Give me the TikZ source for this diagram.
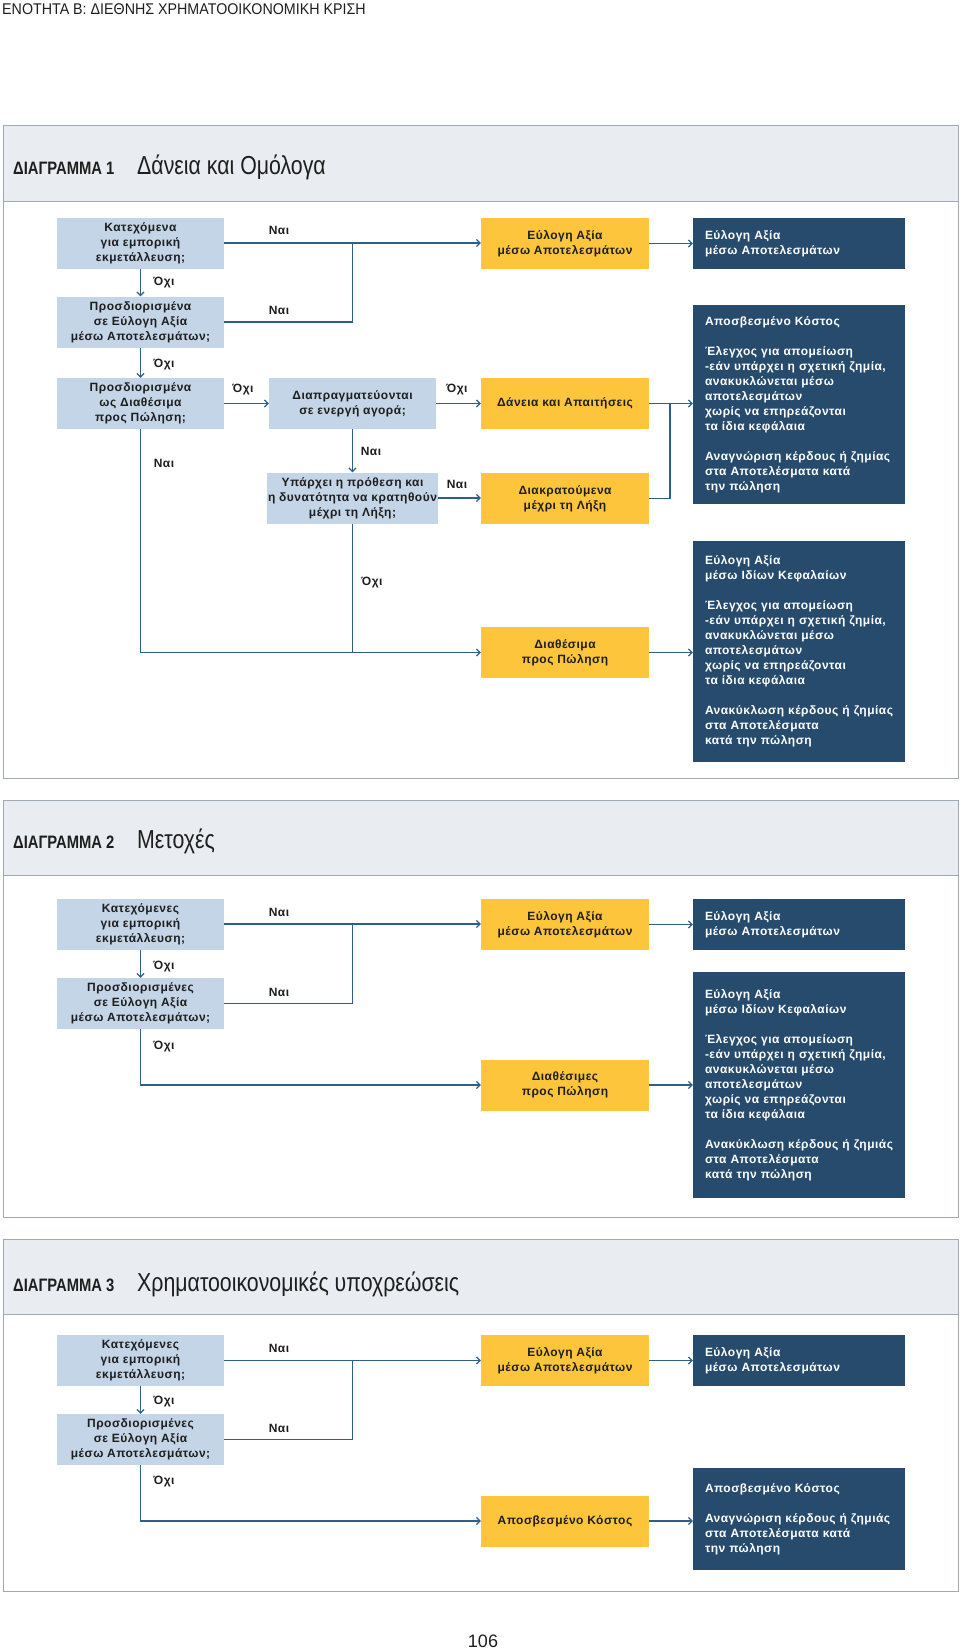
\documentclass[tikz,border=0pt]{standalone}
\usepackage{fontspec}
\setmainfont{Liberation Sans}
\newfontfamily\boxfont{Liberation Sans}[LetterSpace=4]
\newfontfamily\condfont{Liberation Sans}[FakeStretch=0.82]
\newfontfamily\headfont{Liberation Sans}[FakeStretch=0.92]
\usetikzlibrary{arrows.meta,positioning}
\definecolor{qblue}{HTML}{C4D5E7}
\definecolor{qyellow}{HTML}{FDC53C}
\definecolor{qnavy}{HTML}{274B6D}
\definecolor{qband}{HTML}{E9EDF2}
\definecolor{qframe}{HTML}{A0A9B4}
\definecolor{qline}{HTML}{2E5E8C}
\definecolor{qink}{HTML}{1E1E1E}
\newcommand{\boxtext}{\boxfont\bfseries\fontsize{12}{15}\selectfont}

\begin{document}
\begin{tikzpicture}[x=1pt,y=-1pt,>={Straight Barb[length=3.5pt,width=7pt]},
		query/.style={rectangle,fill=qblue,minimum width=167pt,minimum height=51pt,inner sep=1pt,align=center,text=qink,font=\boxtext},
		category/.style={rectangle,fill=qyellow,minimum width=168pt,minimum height=51pt,inner sep=1pt,align=center,text=qink,font=\boxtext},
		result/.style={rectangle,fill=qnavy,text width=188pt,inner xsep=12pt,inner ysep=4pt,align=left,text=white,font=\boxtext},
		ans/.style={inner sep=0pt,text=qink,font=\boxtext},
		link/.style={draw=qline,line width=1.2pt},
		panel/.style={draw=qframe,line width=1pt},
		band/.style={fill=qband},
		maintitle/.style={anchor=base west,inner sep=0pt,text=qink,font=\condfont\bfseries\fontsize{18}{20}\selectfont},
		subtitle/.style={anchor=base west,inner sep=0pt,text=qink,font=\condfont\fontsize{26}{28}\selectfont}]
		\useasboundingbox (0,0) rectangle (960,1651);
		
		\node[anchor=base west,inner sep=0pt,text=qink,font=\headfont\fontsize{15.5}{17}\selectfont] (head) at (2,15) {ΕΝΟΤΗΤΑ Β: ΔΙΕΘΝΗΣ ΧΡΗΜΑΤΟΟΙΚΟΝΟΜΙΚΗ ΚΡΙΣΗ};
		
		% panel frames
		\fill[band] (3,126) rectangle (958,201);
		\draw[panel] (3,126) rectangle (958,778) (3,201) -- (958,201);
		\fill[band] (3,800) rectangle (958,875);
		\draw[panel] (3,800) rectangle (958,1217) (3,875) -- (958,875);
		\fill[band] (3,1239) rectangle (958,1314);
		\draw[panel] (3,1239) rectangle (958,1591) (3,1314) -- (958,1314);
		
		% diagram 1
		\node[maintitle] (t1) at (13,175) {ΔΙΑΓΡΑΜΜΑ 1};
		\node[subtitle]  (s1) at (137,175) {Δάνεια και Ομόλογα};
		
		\node[query] (k1) at (140.5,243)   {Κατεχόμενα\\για εμπορική\\εκμετάλλευση;};
		\node[query] (p1) at (140.5,322)   {Προσδιορισμένα\\σε Εύλογη Αξία\\μέσω Αποτελεσμάτων;};
		\node[query] (d1) at (140.5,403.5) {Προσδιορισμένα\\ως Διαθέσιμα\\προς Πώληση;};
		\node[query] (m1) at (352.5,403.5) {Διαπραγματεύονται\\σε ενεργή αγορά;};
		\node[query] (h1) at (352.5,498)   {Υπάρχει η πρόθεση και\\η δυνατότητα να κρατηθούν\\μέχρι τη Λήξη;};
		
		\node[category] (c1a) at (565,243.5) {Εύλογη Αξία\\μέσω Αποτελεσμάτων};
		\node[category] (c1b) at (565,403.5) {Δάνεια και Απαιτήσεις};
		\node[category] (c1c) at (565,498.5) {Διακρατούμενα\\μέχρι τη Λήξη};
		\node[category] (c1d) at (565,652.5) {Διαθέσιμα\\προς Πώληση};
		
		\node[result,minimum height=51pt]  (r1a) at (799,243.5) {Εύλογη Αξία\\μέσω Αποτελεσμάτων};
		\node[result,minimum height=199pt] (r1b) at (799,404.5) {Αποσβεσμένο Κόστος\\[15pt]
			Έλεγχος για απομείωση\\-εάν υπάρχει η σχετική ζημία,\\ανακυκλώνεται μέσω\\αποτελεσμάτων\\χωρίς να επηρεάζονται\\τα ίδια κεφάλαια\\[15pt]
			Αναγνώριση κέρδους ή ζημίας\\στα Αποτελέσματα κατά\\την πώληση};
		\node[result,minimum height=221pt] (r1c) at (799,651.5) {Εύλογη Αξία\\μέσω Ιδίων Κεφαλαίων\\[15pt]
			Έλεγχος για απομείωση\\-εάν υπάρχει η σχετική ζημία,\\ανακυκλώνεται μέσω\\αποτελεσμάτων\\χωρίς να επηρεάζονται\\τα ίδια κεφάλαια\\[15pt]
			Ανακύκλωση κέρδους ή ζημίας\\στα Αποτελέσματα\\κατά την πώληση};
		
		\coordinate (j1a) at (352.5,243);
		\coordinate (j1b) at (670,403.5);
		\draw[link,->] (k1.east) -- (k1.east -| c1a.west);
		\draw[link] (p1.east) -- (p1.east -| j1a) -- (j1a);
		\draw[link,->] (k1) -- (p1);
		\draw[link,->] (p1) -- (d1);
		\draw[link,->] (d1) -- (m1);
		\draw[link,->] (m1) -- (c1b);
		\draw[link,->] (m1) -- (h1);
		\draw[link,->] (h1.east) -- (h1.east -| c1c.west);
		\draw[link,->] (c1a.east) -- (c1a.east -| r1a.west);
		\draw[link] (c1b) -- (j1b);
		\draw[link] (c1c.east) -| (j1b);
		\draw[link,->] (j1b) -- (j1b -| r1b.west);
		\draw[link,->] (d1) |- (c1d);
		\draw[link] (h1) -- (h1 |- c1d);
		\draw[link,->] (c1d.east) -- (c1d.east -| r1c.west);
		
		\node[ans] (n1a) at (279,230) {Ναι};
		\node[ans] (n1b) at (164,283) {Όχι};
		\node[ans] (n1c) at (279,310) {Ναι};
		\node[ans] (n1d) at (164,365) {Όχι};
		\node[ans] (n1e) at (243,390) {Όχι};
		\node[ans] (n1f) at (457,390) {Όχι};
		\node[ans] (n1g) at (371,451) {Ναι};
		\node[ans] (n1h) at (164,463) {Ναι};
		\node[ans] (n1i) at (457,484) {Ναι};
		\node[ans] (n1j) at (372,583) {Όχι};
		
		% diagram 2
		\node[maintitle] (t2) at (13,848) {ΔΙΑΓΡΑΜΜΑ 2};
		\node[subtitle]  (s2) at (137,848) {Μετοχές};
		
		\node[query] (k2) at (140.5,924)    {Κατεχόμενες\\για εμπορική\\εκμετάλλευση;};
		\node[query] (p2) at (140.5,1003.5) {Προσδιορισμένες\\σε Εύλογη Αξία\\μέσω Αποτελεσμάτων;};
		
		\node[category] (c2a) at (565,924.5) {Εύλογη Αξία\\μέσω Αποτελεσμάτων};
		\node[category] (c2b) at (565,1085)  {Διαθέσιμες\\προς Πώληση};
		
		\node[result,minimum height=51pt]  (r2a) at (799,924.5) {Εύλογη Αξία\\μέσω Αποτελεσμάτων};
		\node[result,minimum height=226pt] (r2b) at (799,1085) {Εύλογη Αξία\\μέσω Ιδίων Κεφαλαίων\\[15pt]
			Έλεγχος για απομείωση\\-εάν υπάρχει η σχετική ζημία,\\ανακυκλώνεται μέσω\\αποτελεσμάτων\\χωρίς να επηρεάζονται\\τα ίδια κεφάλαια\\[15pt]
			Ανακύκλωση κέρδους ή ζημιάς\\στα Αποτελέσματα\\κατά την πώληση};
		
		\coordinate (j2a) at (352.5,924);
		\draw[link,->] (k2.east) -- (k2.east -| c2a.west);
		\draw[link] (p2.east) -- (p2.east -| j2a) -- (j2a);
		\draw[link,->] (k2) -- (p2);
		\draw[link,->] (p2) |- (c2b);
		\draw[link,->] (c2a.east) -- (c2a.east -| r2a.west);
		\draw[link,->] (c2b) -- (r2b);
		
		\node[ans] (n2a) at (279,912)  {Ναι};
		\node[ans] (n2b) at (164,967)  {Όχι};
		\node[ans] (n2c) at (279,992)  {Ναι};
		\node[ans] (n2d) at (164,1047) {Όχι};
		
		% diagram 3
		\node[maintitle] (t3) at (13,1291) {ΔΙΑΓΡΑΜΜΑ 3};
		\node[subtitle]  (s3) at (137,1291) {Χρηματοοικονομικές υποχρεώσεις};
		
		\node[query] (k3) at (140.5,1360.5) {Κατεχόμενες\\για εμπορική\\εκμετάλλευση;};
		\node[query] (p3) at (140.5,1439.5) {Προσδιορισμένες\\σε Εύλογη Αξία\\μέσω Αποτελεσμάτων;};
		
		\node[category] (c3a) at (565,1360.5) {Εύλογη Αξία\\μέσω Αποτελεσμάτων};
		\node[category] (c3b) at (565,1521)   {Αποσβεσμένο Κόστος};
		
		\node[result,minimum height=51pt]  (r3a) at (799,1360.5) {Εύλογη Αξία\\μέσω Αποτελεσμάτων};
		\node[result,minimum height=102pt] (r3b) at (799,1519) {Αποσβεσμένο Κόστος\\[15pt]
			Αναγνώριση κέρδους ή ζημιάς\\στα Αποτελέσματα κατά\\την πώληση};
		
		\coordinate (j3a) at (352.5,1360.5);
		\draw[link,->] (k3.east) -- (k3.east -| c3a.west);
		\draw[link] (p3.east) -- (p3.east -| j3a) -- (j3a);
		\draw[link,->] (k3) -- (p3);
		\draw[link,->] (p3) |- (c3b);
		\draw[link,->] (c3a.east) -- (c3a.east -| r3a.west);
		\draw[link,->] (c3b.east) -- (c3b.east -| r3b.west);
		
		\node[ans] (n3a) at (279,1348) {Ναι};
		\node[ans] (n3b) at (164,1402) {Όχι};
		\node[ans] (n3c) at (279,1428) {Ναι};
		\node[ans] (n3d) at (164,1482) {Όχι};
		
		\node[inner sep=0pt,text=qink,font=\fontsize{18}{20}\selectfont] (pg) at (483,1641) {106};
\end{tikzpicture}
\end{document}
